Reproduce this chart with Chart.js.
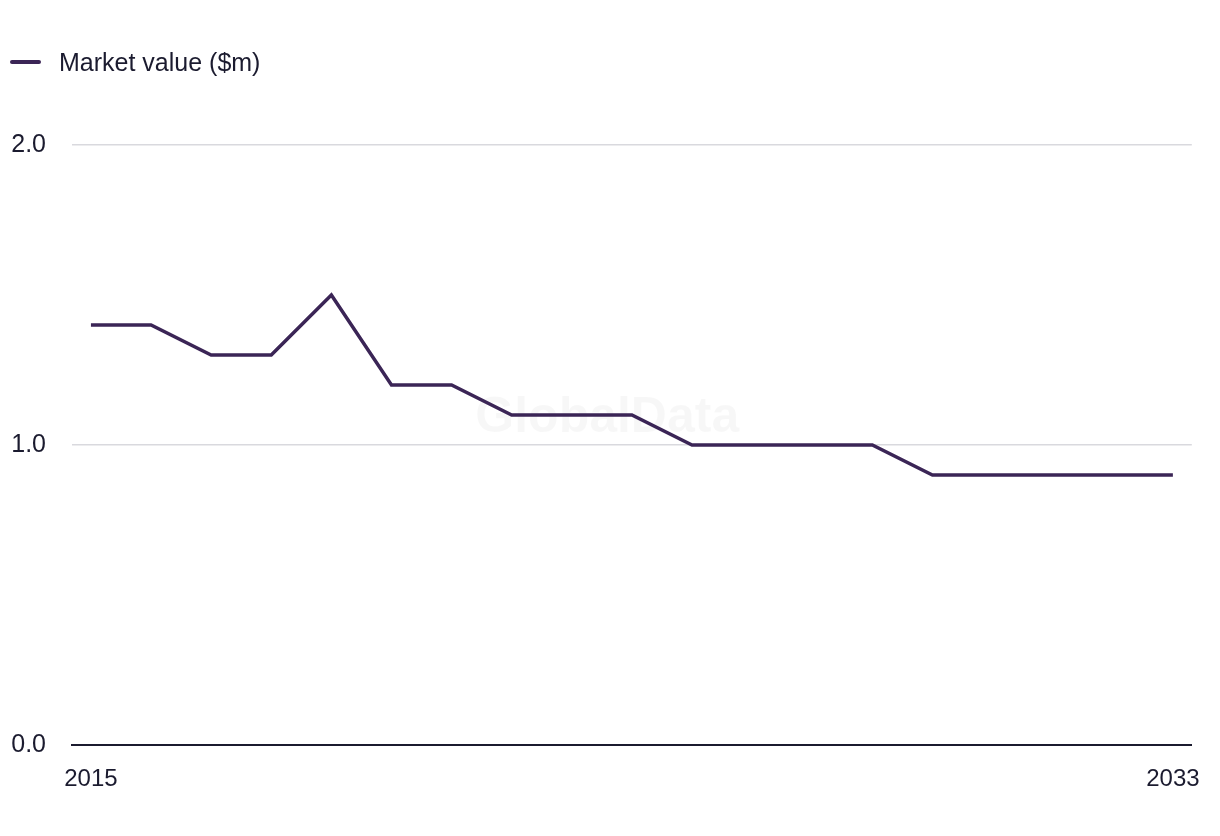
<!DOCTYPE html>
<html>
<head>
<meta charset="utf-8">
<script src="https://cdn.jsdelivr.net/npm/chart.js@4"></script>
<style>
  html, body { margin: 0; padding: 0; background: #ffffff; }
  #wrap { width: 1220px; height: 836px; position: relative; }
  #legend { position: absolute; left: 0; top: 0; width: 600px; height: 100px; font-family: 'Liberation Sans', Arial, sans-serif; color: #1b1b2f; }
  #legend .sw { position: absolute; left: 10px; top: 60px; width: 31px; height: 4px; border-radius: 2px; background: #3b2556; }
  #legend .tx { position: absolute; left: 59px; top: 48px; font-size: 25px; line-height: 28px; white-space: nowrap; }
  canvas { position: absolute; left: 0; top: 0; }
</style>
</head>
<body>
<div id="wrap">
  <canvas id="c" width="1220" height="836"></canvas>
  <div id="legend"><span class="sw"></span><span class="tx" id="legendText"></span></div>
</div>
<script>
const years = [2015, 2016, 2017, 2018, 2019, 2020, 2021, 2022, 2023, 2024, 2025, 2026, 2027, 2028, 2029, 2030, 2031, 2032, 2033];
const marketValue = [1.4, 1.4, 1.3, 1.3, 1.5, 1.2, 1.2, 1.1, 1.1, 1.1, 1.0, 1.0, 1.0, 1.0, 0.9, 0.9, 0.9, 0.9, 0.9];
const seriesLabel = 'Market value ($m)';
const xTickLabels = [2015, 2033];
const yTickValues = [0, 1, 2];

const FONT = "'Liberation Sans', Arial, sans-serif";
const TEXT = '#1b1b2f';
const LINE = '#3b2556';

document.getElementById('legendText').textContent = seriesLabel;

const watermark = {
  id: 'watermark',
  beforeDatasetsDraw(chart) {
    const { ctx, chartArea } = chart;
    ctx.save();
    ctx.font = "bold 50px " + FONT;
    ctx.fillStyle = 'rgba(0,0,0,0.03)';
    ctx.textAlign = 'center';
    ctx.textBaseline = 'middle';
    ctx.fillText('GlobalData', chartArea.left + chartArea.width * 0.478, chart.scales.y.getPixelForValue(1.09));
    ctx.restore();
  }
};

new Chart(document.getElementById('c'), {
  type: 'line',
  data: {
    datasets: [{
      label: seriesLabel,
      data: years.map((y, i) => ({ x: y, y: marketValue[i] })),
      borderColor: LINE,
      backgroundColor: LINE,
      borderWidth: 3.5,
      pointRadius: 0,
      tension: 0,
      fill: false
    }]
  },
  options: {
    responsive: false,
    animation: false,
    layout: { padding: { top: 145, right: 25, bottom: 0, left: 0 } },
    plugins: {
      legend: { display: false },
      tooltip: { enabled: false }
    },
    scales: {
      x: {
        type: 'linear',
        min: 2014.685,
        max: 2033.315,
        afterBuildTicks(scale) { scale.ticks = xTickLabels.map(v => ({ value: v })); },
        afterFit(scale) { scale.height = 91; },
        ticks: {
          color: TEXT,
          font: { family: FONT, size: 24 },
          padding: 20,
          maxRotation: 0,
          autoSkip: false,
          callback: v => String(v)
        },
        grid: { display: false, drawTicks: false },
        border: { display: true, color: '#1b1b2f', width: 2 }
      },
      y: {
        min: 0,
        max: 2,
        afterBuildTicks(scale) { scale.ticks = yTickValues.map(v => ({ value: v })); },
        afterFit(scale) { scale.width = 72; },
        ticks: {
          color: TEXT,
          font: { family: FONT, size: 25 },
          padding: 26,
          callback: v => Number(v).toFixed(1)
        },
        grid: { color: '#d9d9de', lineWidth: 1.5, drawTicks: false },
        border: { display: false }
      }
    }
  },
  plugins: [watermark]
});
</script>
</body>
</html>
